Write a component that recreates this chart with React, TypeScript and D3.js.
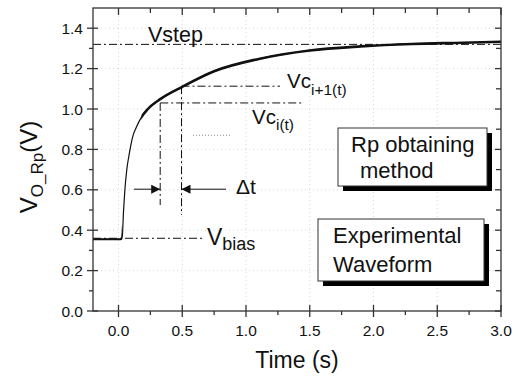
import React from "react";
import * as d3 from "d3";

const timeS = [-0.2, 0.0, 0.025, 0.03, 0.04, 0.05, 0.065, 0.085, 0.11, 0.14, 0.18, 0.23, 0.33, 0.5, 0.75, 1.1, 1.5, 1.9, 2.3, 2.7, 3.0];
const voltage = [0.355, 0.355, 0.356, 0.37, 0.5, 0.6, 0.7, 0.78, 0.86, 0.91, 0.96, 1.0, 1.05, 1.11, 1.187, 1.248, 1.29, 1.31, 1.322, 1.328, 1.333];
const xTicks = [0, 0.5, 1.0, 1.5, 2.0, 2.5, 3.0];
const yTicks = [0, 0.2, 0.4, 0.6, 0.8, 1.0, 1.2, 1.4];
const xMinor = [-0.25, 0.25, 0.75, 1.25, 1.75, 2.25, 2.75];
const yMinor = [0.1, 0.3, 0.5, 0.7, 0.9, 1.1, 1.3];
const vStep = 1.32;
const vBias = 0.36;
const tI = 0.327;
const tI1 = 0.494;
const vcI = 1.03;
const vcI1 = 1.113;
const arrowV = 0.603;

const W = 520, H = 380;
const L = 93, R = 501, T = 8, B = 311;
const FONT = "'Liberation Sans', Arial, sans-serif";
const DASHDOT = "8,3,2,3";

export default function App() {
  const x = d3.scaleLinear().domain([-0.2, 3.0]).range([L, R]);
  const y = d3.scaleLinear().domain([0, 1.5]).range([B, T]);
  const pts = timeS.map((t, i) => [t, voltage[i]] as [number, number]);
  const line = d3.line<[number, number]>().x(d => x(d[0])).y(d => y(d[1])).curve(d3.curveMonotoneX);
  const ink = "#111";
  const d = line(pts) || "";
  return (
    <svg width={W} height={H} style={{ position: "absolute", left: 0, top: 0, background: "#fff" }} fontFamily={FONT}>
      <defs>
        <marker id="ah" viewBox="0 0 10 10" refX="10" refY="5" markerWidth="12" markerHeight="9" markerUnits="userSpaceOnUse" orient="auto">
          <path d="M0,0 L10,5 L0,10 Z" fill={ink} />
        </marker>
        <clipPath id="thick">
          <rect x={x(0.18)} y={T} width={R - x(0.18)} height={B - T} />
        </clipPath>
        <clipPath id="flat">
          <rect x={L} y={T} width={x(0.028) - L} height={B - T} />
        </clipPath>
      </defs>
      {/* grid */}
      {xTicks.filter(t => t > -0.2 && t < 3).map(t => (
        <line key={"gx" + t} x1={x(t)} x2={x(t)} y1={T} y2={B} stroke="#d8d8d8" strokeWidth={1} strokeDasharray="1,3" />
      ))}
      {yTicks.filter(v => v > 0).map(v => (
        <line key={"gy" + v} x1={L} x2={R} y1={y(v)} y2={y(v)} stroke="#d8d8d8" strokeWidth={1} strokeDasharray="1,3" />
      ))}
      {/* dotted short line */}
      <line x1={193} x2={230} y1={y(0.87)} y2={y(0.87)} stroke="#888" strokeWidth={1} strokeDasharray="1,2" />
      {/* annotation lines */}
      <line x1={L} x2={R} y1={y(vStep)} y2={y(vStep)} stroke={ink} strokeWidth={1} strokeDasharray={DASHDOT} />
      <line x1={L} x2={203} y1={y(vBias)} y2={y(vBias)} stroke={ink} strokeWidth={1} strokeDasharray={DASHDOT} />
      <line x1={x(tI)} x2={303} y1={y(vcI)} y2={y(vcI)} stroke={ink} strokeWidth={1} strokeDasharray={DASHDOT} />
      <line x1={x(tI1)} x2={280} y1={y(vcI1)} y2={y(vcI1)} stroke={ink} strokeWidth={1} strokeDasharray={DASHDOT} />
      <line x1={x(tI)} x2={x(tI)} y1={y(vcI)} y2={205} stroke={ink} strokeWidth={1} strokeDasharray={DASHDOT} />
      <line x1={x(tI1)} x2={x(tI1)} y1={y(vcI1)} y2={215} stroke={ink} strokeWidth={1} strokeDasharray={DASHDOT} />
      {/* arrows */}
      <line x1={134} x2={x(tI)} y1={y(arrowV)} y2={y(arrowV)} stroke={ink} strokeWidth={1} markerEnd="url(#ah)" />
      <line x1={226} x2={x(tI1)} y1={y(arrowV)} y2={y(arrowV)} stroke={ink} strokeWidth={1} markerEnd="url(#ah)" />
      {/* curve */}
      <path d={d} fill="none" stroke={ink} strokeWidth={1.2} />
      <path d={d} fill="none" stroke={ink} strokeWidth={2.6} clipPath="url(#thick)" />
      <path d={d} fill="none" stroke={ink} strokeWidth={2} clipPath="url(#flat)" />
      {/* frame */}
      <rect x={L} y={T} width={R - L} height={B - T} fill="none" stroke="#333" strokeWidth={1.3} />
      {/* bottom ticks */}
      {xTicks.map(t => (
        <g key={"xt" + t}>
          <line x1={x(t)} x2={x(t)} y1={B - 6} y2={B + 6} stroke="#333" strokeWidth={1.3} />
          <line x1={x(t)} x2={x(t)} y1={T} y2={T + 7} stroke="#333" strokeWidth={1.3} />
          <text x={x(t)} y={B + 25} textAnchor="middle" fontSize={15.5} fill={ink}>{t.toFixed(1)}</text>
        </g>
      ))}
      {xMinor.filter(t => t > -0.2).map(t => (
        <g key={"xm" + t}>
          <line x1={x(t)} x2={x(t)} y1={B} y2={B + 4} stroke="#333" strokeWidth={1.3} />
          <line x1={x(t)} x2={x(t)} y1={T} y2={T + 5} stroke="#333" strokeWidth={1.3} />
        </g>
      ))}
      {yTicks.map(v => (
        <g key={"yt" + v}>
          <line x1={L - 6} x2={L + 5} y1={y(v)} y2={y(v)} stroke="#333" strokeWidth={1.3} />
          <line x1={R - 6} x2={R} y1={y(v)} y2={y(v)} stroke="#333" strokeWidth={1.3} />
          <text x={L - 10} y={y(v) + 5.5} textAnchor="end" fontSize={15.5} fill={ink}>{v.toFixed(1)}</text>
        </g>
      ))}
      {yMinor.map(v => (
        <g key={"ym" + v}>
          <line x1={L - 4} x2={L} y1={y(v)} y2={y(v)} stroke="#333" strokeWidth={1.3} />
          <line x1={R - 5} x2={R} y1={y(v)} y2={y(v)} stroke="#333" strokeWidth={1.3} />
        </g>
      ))}
      {/* axis titles */}
      <text x={297} y={368} textAnchor="middle" fontSize={23} fill={ink}>Time (s)</text>
      <text transform="translate(37,167) rotate(-90)" textAnchor="middle" fontSize={24} fill={ink}>
        V<tspan fontSize={17} dy={6}>O_Rp</tspan><tspan dy={-6}>(V)</tspan>
      </text>
      {/* labels */}
      <text x={148} y={42} fontSize={21.5} fill={ink}>Vstep</text>
      <text x={287} y={88} fontSize={20.5} fill={ink}>Vc<tspan fontSize={15.5} dy={7}>i+1(t)</tspan></text>
      <text x={252} y={124} fontSize={20.5} fill={ink}>Vc<tspan fontSize={15.5} dy={6}>i(t)</tspan></text>
      <text x={207} y={245} fontSize={23} fill={ink}>V<tspan fontSize={18} dy={5}>bias</tspan></text>
      <text x={236} y={194} fontSize={21} fill={ink}>Δt</text>
      {/* boxes */}
      <rect x={343} y={133} width={149} height={58} fill="#000" />
      <rect x={338} y={128} width={149} height={58} fill="#fff" stroke="#333" strokeWidth={1} />
      <text x={351} y={152} fontSize={22} fill={ink}>Rp obtaining</text>
      <text x={360} y={178} fontSize={22} fill={ink}>method</text>
      <rect x={323} y={224} width={166} height={62} fill="#000" />
      <rect x={318} y={219} width={166} height={62} fill="#fff" stroke="#333" strokeWidth={1} />
      <text x={333} y={243} fontSize={22} fill={ink}>Experimental</text>
      <text x={333} y={272} fontSize={22} fill={ink}>Waveform</text>
    </svg>
  );
}
